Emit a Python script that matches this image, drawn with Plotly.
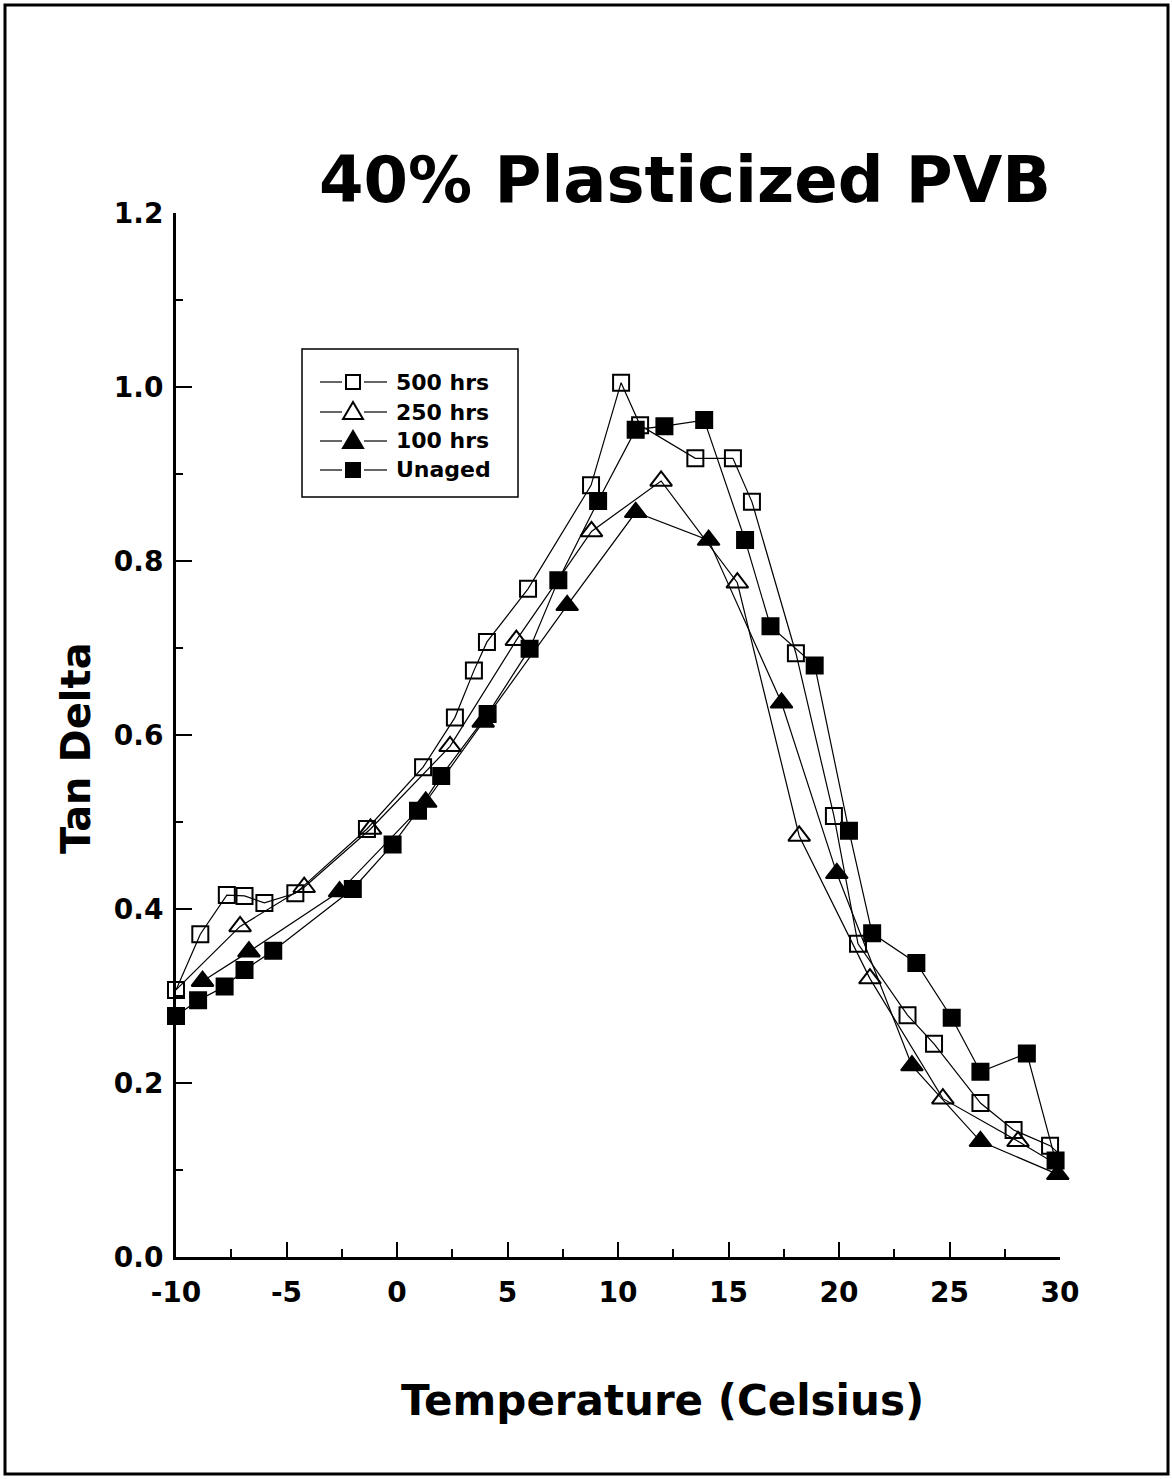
import plotly.graph_objects as go

# ---- data ----
t500 = [-10.0, -8.9, -7.7, -6.9, -6.0, -4.6, -1.36, 1.18, 2.62, 3.48, 4.07, 5.93, 8.78, 10.14, 11.0, 13.5, 15.2, 16.06, 18.05, 19.77, 20.86, 23.1, 24.3, 26.4, 27.9, 29.55, 30.7]
y500 = [0.307, 0.371, 0.416, 0.415, 0.407, 0.418, 0.492, 0.563, 0.620, 0.674, 0.707, 0.768, 0.887, 1.005, 0.956, 0.918, 0.918, 0.868, 0.694, 0.507, 0.360, 0.278, 0.245, 0.177, 0.146, 0.128, 0.102]

t250 = [-10.0, -7.1, -4.2, -1.2, 2.4, 5.4, 8.8, 11.95, 15.4, 18.2, 21.4, 24.7, 28.1, 31.0]
y250 = [0.307, 0.380, 0.425, 0.492, 0.587, 0.709, 0.834, 0.892, 0.775, 0.484, 0.320, 0.182, 0.133, 0.089]

t100 = [-8.8, -6.7, -2.6, 1.3, 3.9, 7.7, 10.8, 14.1, 17.4, 19.9, 23.3, 26.4, 29.9]
y100 = [0.317, 0.351, 0.420, 0.523, 0.615, 0.749, 0.856, 0.824, 0.637, 0.441, 0.220, 0.133, 0.095]

tun = [-10.0, -9.0, -7.8, -6.9, -5.6, -2.0, -0.2, 0.95, 2.0, 4.1, 6.0, 7.3, 9.1, 10.8, 12.1, 13.9, 15.75, 16.9, 18.9, 20.45, 21.5, 23.5, 25.1, 26.4, 28.5, 29.8]
yun = [0.277, 0.295, 0.311, 0.330, 0.352, 0.423, 0.474, 0.513, 0.553, 0.624, 0.699, 0.778, 0.869, 0.951, 0.955, 0.962, 0.824, 0.725, 0.680, 0.490, 0.372, 0.338, 0.275, 0.213, 0.234, 0.111]

names = ["500 hrs", "250 hrs", "100 hrs", "Unaged"]
xtick_vals = [-10, -5, 0, 5, 10, 15, 20, 25, 30]
ytick_vals = [0.0, 0.2, 0.4, 0.6, 0.8, 1.0, 1.2]

FONT = "DejaVu Sans"

# plot-area geometry in pixels (for placing page decorations)
L, R, T, B = 176, 1060, 213, 1257
def xp(px):
    return (px - L) / (R - L)
def yp(py):
    return (B - py) / (B - T)

def sizes(xs, base, hidden_first=False):
    # markers hidden where the line only runs on (past the axis end / shared start)
    out = []
    for i, x in enumerate(xs):
        if x > 30.2 or (hidden_first and i == 0):
            out.append(0)
        else:
            out.append(base)
    return out

series = [
    (t500, y500, names[0], "square-open", sizes(t500, 16)),
    (t250, y250, names[1], "triangle-up-open", sizes(t250, 19, hidden_first=True)),
    (t100, y100, names[2], "triangle-up", sizes(t100, 19)),
    (tun, yun, names[3], "square", sizes(tun, 16)),
]

fig = go.Figure()
for xs, ys, nm, sym, sz in series:
    fig.add_trace(go.Scatter(
        x=xs, y=ys, name=nm, mode="lines+markers", showlegend=False,
        line=dict(color="black", width=1.2),
        marker=dict(symbol=sym, size=sz, color="black", opacity=1,
                    line=dict(color="black", width=2)),
        cliponaxis=False,
    ))

fig.update_layout(
    width=1172, height=1479,
    margin=dict(l=L, r=1172 - R, t=T, b=1479 - B),
    paper_bgcolor="white", plot_bgcolor="white",
    showlegend=False,
    font=dict(family=FONT, color="black"),
)

fig.update_xaxes(
    range=[-10, 30], tickvals=xtick_vals, ticktext=[str(v) for v in xtick_vals],
    showgrid=False, zeroline=False, showline=True, linecolor="black", linewidth=3,
    ticks="inside", ticklen=15, tickwidth=2, tickcolor="black",
    minor=dict(dtick=2.5, ticks="inside", ticklen=8, tickwidth=2, tickcolor="black", showgrid=False),
    tickfont=dict(family=FONT, size=28, color="black", weight="bold"),
    ticklabelstandoff=8,
)
fig.update_yaxes(
    range=[0, 1.2], tickvals=ytick_vals, ticktext=["%.1f" % v for v in ytick_vals],
    showgrid=False, zeroline=False, showline=True, linecolor="black", linewidth=3,
    ticks="inside", ticklen=16, tickwidth=2, tickcolor="black",
    minor=dict(dtick=0.1, ticks="inside", ticklen=7, tickwidth=2, tickcolor="black", showgrid=False),
    tickfont=dict(family=FONT, size=28, color="black", weight="bold"),
    ticklabelstandoff=4,
)

# titles
fig.add_annotation(
    text="40% Plasticized PVB", xref="paper", yref="paper",
    x=xp(685), y=yp(180), xanchor="center", yanchor="middle", showarrow=False,
    font=dict(family=FONT, size=64, color="black", weight="bold"),
)
fig.add_annotation(
    text="Temperature (Celsius)", xref="paper", yref="paper",
    x=xp(662), y=yp(1400), xanchor="center", yanchor="middle", showarrow=False,
    font=dict(family=FONT, size=42, color="black", weight="bold"),
)
fig.add_annotation(
    text="Tan Delta", xref="paper", yref="paper", textangle=-90,
    x=xp(76), y=yp(748), xanchor="center", yanchor="middle", showarrow=False,
    font=dict(family=FONT, size=40, color="black", weight="bold"),
)

# legend (drawn by hand to match the reference's line-marker-line samples)
fig.add_shape(type="rect", xref="paper", yref="paper",
              x0=xp(302), x1=xp(518), y0=yp(497), y1=yp(349),
              line=dict(color="black", width=1.5), fillcolor="white", layer="below")
rows = [382, 412, 441, 470]
mx = 353
for nm, ry, kind in zip(names, rows, ["sq_open", "tri_open", "tri", "sq"]):
    for a, b in ((320, 342), (364, 387)):
        fig.add_shape(type="line", xref="paper", yref="paper",
                      x0=xp(a), x1=xp(b), y0=yp(ry), y1=yp(ry),
                      line=dict(color="black", width=1.2))
    if kind.startswith("sq"):
        h = 7
        fig.add_shape(type="rect", xref="paper", yref="paper",
                      x0=xp(mx - h), x1=xp(mx + h), y0=yp(ry + h), y1=yp(ry - h),
                      line=dict(color="black", width=2),
                      fillcolor="white" if kind == "sq_open" else "black")
    else:
        path = "M %f %f L %f %f L %f %f Z" % (
            xp(mx), yp(ry - 10), xp(mx - 10), yp(ry + 7), xp(mx + 10), yp(ry + 7))
        fig.add_shape(type="path", xref="paper", yref="paper", path=path,
                      line=dict(color="black", width=2),
                      fillcolor="white" if kind == "tri_open" else "black")
    fig.add_annotation(text=nm, xref="paper", yref="paper",
                       x=xp(394), y=yp(ry), xanchor="left", yanchor="middle",
                       showarrow=False,
                       font=dict(family=FONT, size=22, color="black", weight="bold"))

# page frame
fig.add_shape(type="rect", xref="paper", yref="paper",
              x0=xp(5), x1=xp(1168), y0=yp(1474), y1=yp(5),
              line=dict(color="black", width=3), layer="below")

fig.write_html("out.html")
